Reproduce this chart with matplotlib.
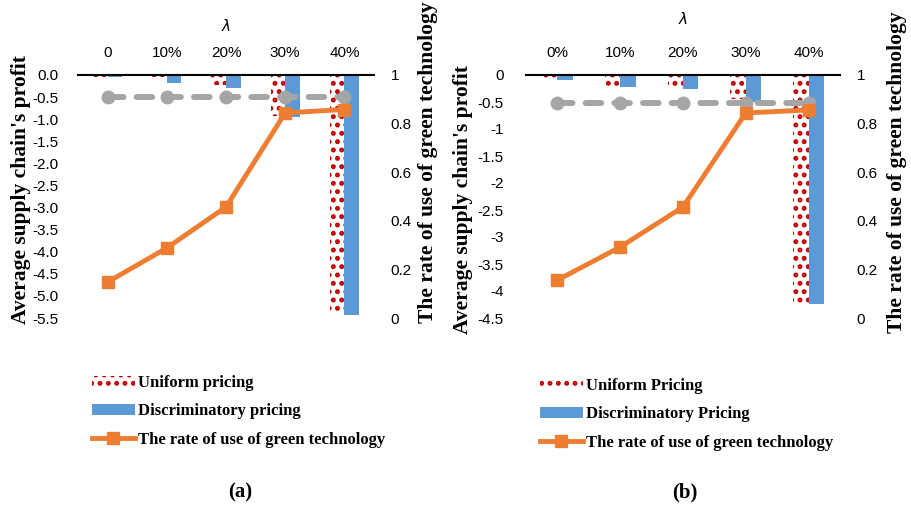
import matplotlib
matplotlib.use("Agg")
import matplotlib.pyplot as plt
import numpy as np
from matplotlib.patches import Patch
from matplotlib.lines import Line2D

# ---- data ----
cats_a = ["0", "10%", "20%", "30%", "40%"]
cats_b = ["0%", "10%", "20%", "30%", "40%"]

uniform_a = [-0.04, -0.05, -0.23, -0.92, -5.41]
discrim_a = [-0.05, -0.17, -0.30, -0.94, -5.43]
green_a = [0.148, 0.288, 0.457, 0.844, 0.858]
base_a = [-0.50, -0.50, -0.50, -0.50, -0.50]

uniform_b = [-0.05, -0.20, -0.25, -0.45, -4.22]
discrim_b = [-0.09, -0.22, -0.26, -0.50, -4.24]
green_b = [0.156, 0.292, 0.457, 0.844, 0.856]
base_b = [-0.52, -0.52, -0.52, -0.52, -0.52]

yticks_a = [0.0, -0.5, -1.0, -1.5, -2.0, -2.5, -3.0, -3.5, -4.0, -4.5, -5.0, -5.5]
yticks_b = [0, -0.5, -1, -1.5, -2, -2.5, -3, -3.5, -4, -4.5]
rticks = [0, 0.2, 0.4, 0.6, 0.8, 1]

legend_a = ["Uniform pricing", "Discriminatory pricing", "The rate of use of green technology"]
legend_b = ["Uniform Pricing", "Discriminatory Pricing", "The rate of use of green technology"]

RED = "#C00000"
BLUE = "#5B9BD5"
ORANGE = "#ED7D31"
GREY = "#A5A5A5"

plt.rcParams["hatch.linewidth"] = 2.3
tick_font = {"family": "Liberation Sans", "size": 11}
lab_font = {"family": "Liberation Serif", "size": 15.5, "weight": "bold"}
leg_font = {"family": "Liberation Serif", "size": 12, "weight": "bold"}

fig = plt.figure(figsize=(9.11, 5.07), dpi=100)
W, H = 911, 507


def px_axes(x0, x1, y0, y1):
    return fig.add_axes([x0 / W, 1 - y1 / H, (x1 - x0) / W, (y1 - y0) / H])


def panel(ax, cats, uni, dis, green, base, yticks, ylim, fmt, leg_labels,
          leg_xy, caption, cap_xy, lam_y, left_lab, right_lab, ypad):
    x = np.arange(len(cats))
    bw = 0.245
    ax.bar(x - bw / 2, uni, bw, color="white", edgecolor=RED, hatch="..",
           linewidth=0, zorder=2)
    ax.bar(x + bw / 2, dis, bw, color=BLUE, linewidth=0, zorder=2)
    ax.plot(x, base, color=GREY, lw=4.3, ls=(0, (2.6, 2.2)), marker="o",
            ms=9, zorder=3, dash_capstyle="round")
    ax.set_xlim(-0.5, len(cats) - 0.5)
    ax.set_ylim(ylim, 0)
    ax.set_yticks(yticks)
    ax.set_yticklabels([fmt(v) for v in yticks], fontdict=tick_font)
    ax.xaxis.tick_top()
    ax.set_xticks(x)
    ax.set_xticklabels(cats, fontdict=tick_font)
    ax.tick_params(axis="both", length=0)
    ax.tick_params(axis="y", pad=ypad)
    ax.tick_params(axis="x", pad=11)
    for s in ("left", "right", "bottom"):
        ax.spines[s].set_visible(False)
    ax.spines["top"].set_linewidth(1.5)
    ax.set_ylabel("Average supply chain's profit", fontdict=lab_font)
    ax.yaxis.set_label_coords(*left_lab)
    ax.set_title(r"$\lambda$", fontsize=11, pad=0, y=1.0)
    ax.title.set_position((0.5, lam_y))

    ax2 = ax.twinx()
    ax2.plot(x, green, color=ORANGE, lw=3.5, marker="s", ms=9, zorder=4)
    ax2.set_ylim(0, 1)
    ax2.set_yticks(rticks)
    ax2.set_yticklabels(["0", "0.2", "0.4", "0.6", "0.8", "1"], fontdict=tick_font)
    ax2.tick_params(axis="y", length=0, pad=12)
    for s in ax2.spines.values():
        s.set_visible(False)
    ax2.set_ylabel("The rate of use of green technology", fontdict=lab_font)
    ax2.yaxis.set_label_coords(*right_lab)

    handles = [
        Patch(facecolor="white", edgecolor=RED, hatch="..", linewidth=0),
        Patch(facecolor=BLUE, linewidth=0),
        Line2D([0], [0], color=ORANGE, lw=3.5, marker="s", ms=8),
    ]
    fig.legend(handles, leg_labels, loc="upper left",
               bbox_to_anchor=(leg_xy[0] / W, 1 - leg_xy[1] / H),
               frameon=False, prop=leg_font, handlelength=2.6,
               handleheight=0.6, labelspacing=0.75, handletextpad=0.2,
               borderaxespad=0)
    fig.text(cap_xy[0] / W, 1 - cap_xy[1] / H, caption, ha="center",
             va="center", family="Liberation Serif", weight="bold", size=15)
    return ax2


ax_a = px_axes(78, 374, 75, 318)
panel(ax_a, cats_a, uniform_a, discrim_a, green_a, base_a, yticks_a, -5.5,
      lambda v: f"{v:.1f}", legend_a, (85, 368), "(a)", (240, 492), 1.18,
      (-0.16, 0.527), (1.15, 0.642), 14)

ax_b = px_axes(526, 840, 75, 318)
panel(ax_b, cats_b, uniform_b, discrim_b, green_b, base_b, yticks_b, -4.5,
      lambda v: f"{v:g}", legend_b, (533, 371), "(b)", (685, 492), 1.21,
      (-0.168, 0.486), (1.15, 0.60), 16)

fig.savefig("out.png", dpi=100)
